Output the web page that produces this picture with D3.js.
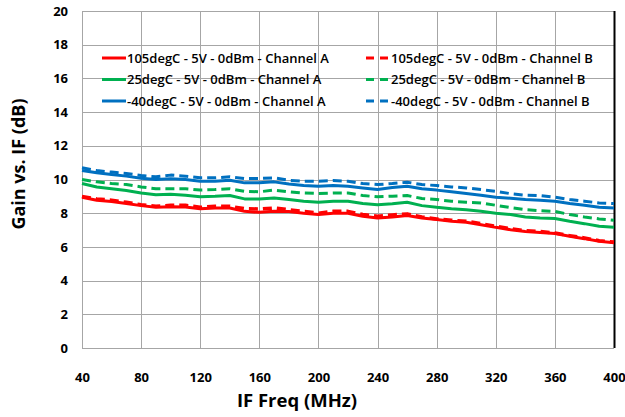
<!DOCTYPE html>
<html>
<head>
<meta charset="utf-8">
<script src="https://cdn.jsdelivr.net/npm/d3@7"></script>
<style>
  body { margin: 0; background: #fff; }
  svg text { font-family: "Open Sans", sans-serif; font-weight: 700; fill: #000; }
</style>
</head>
<body>
<div id="svg-container"></div>
<script>
// Chart data.
var freqs = d3.range(40, 401, 10);   // IF frequency, MHz
var xTicks = [40, 80, 120, 160, 200, 240, 280, 320, 360, 400];
var yTicks = [0, 2, 4, 6, 8, 10, 12, 14, 16, 18, 20];

var hot_A = [8.95, 8.77, 8.69, 8.57, 8.45, 8.35, 8.39, 8.37, 8.27, 8.31, 8.31, 8.11, 8.05, 8.11, 8.10, 8.00, 7.92, 8.00, 8.00,
  7.82, 7.72, 7.78, 7.86, 7.72, 7.62, 7.52, 7.46, 7.32, 7.16, 7.02, 6.92, 6.86, 6.79, 6.63, 6.49, 6.33, 6.25];
var hot_B = [9.00, 8.85, 8.77, 8.65, 8.50, 8.41, 8.47, 8.47, 8.35, 8.41, 8.41, 8.27, 8.25, 8.31, 8.21, 8.11, 8.00, 8.11, 8.11,
  7.92, 7.82, 7.90, 7.96, 7.78, 7.66, 7.58, 7.52, 7.38, 7.22, 7.09, 6.96, 6.92, 6.82, 6.67, 6.53, 6.37, 6.29];
var room_A = [9.76, 9.56, 9.45, 9.35, 9.20, 9.10, 9.12, 9.07, 8.97, 9.00, 9.05, 8.85, 8.85, 8.90, 8.81, 8.71, 8.65, 8.71, 8.71,
  8.57, 8.50, 8.56, 8.65, 8.45, 8.35, 8.27, 8.21, 8.11, 8.00, 7.92, 7.78, 7.72, 7.68, 7.52, 7.38, 7.22, 7.16];
var room_B = [10.00, 9.86, 9.76, 9.70, 9.56, 9.45, 9.45, 9.45, 9.37, 9.40, 9.45, 9.30, 9.27, 9.37, 9.27, 9.20, 9.17, 9.20, 9.20,
  9.05, 8.97, 9.01, 9.05, 8.87, 8.81, 8.71, 8.65, 8.61, 8.47, 8.33, 8.21, 8.15, 8.11, 7.92, 7.78, 7.66, 7.58];
var cold_A = [10.54, 10.40, 10.30, 10.20, 10.08, 10.00, 10.05, 10.00, 9.90, 9.90, 9.96, 9.80, 9.80, 9.86, 9.73, 9.64, 9.60, 9.64, 9.60,
  9.50, 9.40, 9.52, 9.60, 9.45, 9.37, 9.27, 9.17, 9.07, 8.95, 8.89, 8.81, 8.77, 8.71, 8.57, 8.47, 8.35, 8.31];
var cold_B = [10.70, 10.53, 10.44, 10.36, 10.24, 10.16, 10.26, 10.20, 10.10, 10.10, 10.16, 10.06, 10.06, 10.10, 9.95, 9.90, 9.90, 9.94, 9.90,
  9.76, 9.70, 9.76, 9.84, 9.70, 9.64, 9.56, 9.50, 9.40, 9.30, 9.16, 9.07, 9.05, 8.95, 8.81, 8.71, 8.61, 8.57];

var seriesNames = [
  "105degC - 5V - 0dBm - Channel A", "105degC - 5V - 0dBm - Channel B",
  "25degC - 5V - 0dBm - Channel A", "25degC - 5V - 0dBm - Channel B",
  "-40degC - 5V - 0dBm - Channel A", "-40degC - 5V - 0dBm - Channel B"
];

var series = [
  { name: seriesNames[0], values: hot_A,  color: "#ff0000", dashed: false, w: 3 },
  { name: seriesNames[1], values: hot_B,  color: "#ff0000", dashed: true,  w: 3.5 },
  { name: seriesNames[2], values: room_A, color: "#00b050", dashed: false, w: 3 },
  { name: seriesNames[3], values: room_B, color: "#00b050", dashed: true,  w: 3 },
  { name: seriesNames[4], values: cold_A, color: "#0070c0", dashed: false, w: 3 },
  { name: seriesNames[5], values: cold_B, color: "#0070c0", dashed: true,  w: 3 }
];

var W = 625, H = 417;
var margin = { top: 11, right: 11, bottom: 69, left: 82 };
var width = W - margin.left - margin.right;
var height = H - margin.top - margin.bottom;

var svg = d3.select("#svg-container").append("svg")
  .attr("width", W)
  .attr("height", H);

var g = svg.append("g")
  .attr("transform", "translate(" + margin.left + "," + margin.top + ")");

var x = d3.scaleLinear().domain([40, 400]).range([0, width]);
var y = d3.scaleLinear().domain([0, 20]).range([height, 0]);

// Gridlines
g.append("g")
  .selectAll("line.hgrid")
  .data(yTicks)
  .enter().append("line")
  .attr("x1", 0).attr("x2", width)
  .attr("y1", function(d) { return Math.round(y(d)) + 0.5; })
  .attr("y2", function(d) { return Math.round(y(d)) + 0.5; })
  .style("stroke", "#a6a6a6")
  .style("stroke-width", 1);

g.append("g")
  .selectAll("line.vgrid")
  .data(xTicks)
  .enter().append("line")
  .attr("y1", 0).attr("y2", height)
  .attr("x1", function(d) { return Math.round(x(d)) + 0.5; })
  .attr("x2", function(d) { return Math.round(x(d)) + 0.5; })
  .style("stroke", "#a6a6a6")
  .style("stroke-width", 1);

// Black right border of the plot area
g.append("line")
  .attr("x1", width + 0.5).attr("x2", width + 0.5)
  .attr("y1", 0).attr("y2", height)
  .style("stroke", "#000")
  .style("stroke-width", 2);

// Axes (labels only, Excel style)
var xAxis = d3.axisBottom(x).tickValues(xTicks).tickSize(0).tickPadding(25);
var yAxis = d3.axisLeft(y).tickValues(yTicks).tickSize(0).tickPadding(14);

var gx = g.append("g")
  .attr("transform", "translate(0," + height + ")")
  .call(xAxis);
var gy = g.append("g").call(yAxis);

[gx, gy].forEach(function(a) {
  a.select(".domain").remove();
  a.selectAll("text")
    .style("font-size", "13px")
    .style("font-family", "'Open Sans', sans-serif")
    .style("font-weight", 700);
});

// Lines
var line = d3.line()
  .x(function(d, i) { return x(freqs[i]); })
  .y(function(d) { return y(d); });

g.selectAll(".series")
  .data(series)
  .enter().append("path")
  .attr("class", "series")
  .attr("d", function(s) { return line(s.values); })
  .style("fill", "none")
  .style("stroke", function(s) { return s.color; })
  .style("stroke-width", function(s) { return s.w; })
  .style("stroke-linejoin", "round")
  .style("stroke-dasharray", function(s) { return s.dashed ? "9,5" : null; });

// Legend: two columns, three rows
var legend = svg.selectAll(".legend")
  .data(series)
  .enter().append("g")
  .attr("class", "legend")
  .attr("transform", function(s, i) {
    var col = i % 2, row = Math.floor(i / 2);
    return "translate(" + (col ? 366 : 102) + "," + (58 + row * 21.5) + ")";
  });

legend.append("line")
  .attr("x1", 0).attr("x2", 24)
  .attr("y1", 0).attr("y2", 0)
  .style("stroke", function(s) { return s.color; })
  .style("stroke-width", 3)
  .style("stroke-dasharray", function(s) { return s.dashed ? "8,6" : null; });

legend.append("text")
  .attr("x", 25)
  .attr("y", 0)
  .attr("dy", "0.35em")
  .style("font-size", "13px")
  .style("font-weight", 600)
  .text(function(s) { return s.name; });

// Axis titles
svg.append("text")
  .attr("x", 297)
  .attr("y", 407)
  .style("text-anchor", "middle")
  .style("font-size", "18.5px")
  .text("IF Freq (MHz)");

svg.append("text")
  .attr("transform", "translate(25,164) rotate(-90)")
  .style("text-anchor", "middle")
  .style("font-size", "18px")
  .text("Gain vs. IF (dB)");
</script>
</body>
</html>
